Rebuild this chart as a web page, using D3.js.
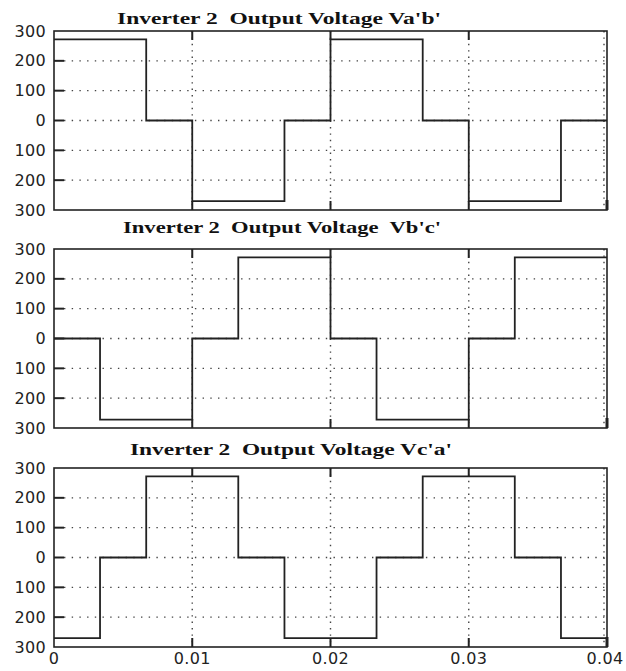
<!DOCTYPE html>
<html>
<head>
<meta charset="utf-8">
<script src="https://cdn.jsdelivr.net/npm/d3@7"></script>
<style>
  body { margin: 0; background: #fff; }
  svg { display: block; }
  .tick-label { font-family: "DejaVu Sans", sans-serif; font-size: 16px; fill: #222; letter-spacing: 0.3px; }
  .title { font-family: "Liberation Serif", "Times New Roman", serif; font-weight: bold; font-size: 17px; fill: #111; white-space: pre; }
</style>
</head>
<body>
<div id="chart"></div>
<script>
// step waveforms: [time, value] held until the next point
const seriesVab = [[0, 272], [0.00667, 0], [0.01, -270], [0.01667, 0], [0.02, 272], [0.02667, 0], [0.03, -270], [0.03667, 0], [0.04, 0]];
const seriesVbc = [[0, 0], [0.00333, -272], [0.01, 0], [0.01333, 272], [0.02, 0], [0.02333, -272], [0.03, 0], [0.03333, 272], [0.04, 272]];
const seriesVca = [[0, -270], [0.00333, 0], [0.00667, 272], [0.01333, 0], [0.01667, -270], [0.02333, 0], [0.02667, 272], [0.03333, 0], [0.03667, -270], [0.04, -270]];

const titles = ["Inverter 2  Output Voltage Va'b'", "Inverter 2  Output Voltage  Vb'c'", "Inverter 2  Output Voltage Vc'a'"];
const yTicks = [300, 200, 100, 0, -100, -200, -300];
const yTickLabels = ["300", "200", "100", "0", "100", "200", "300"];
const xTicks = [0, 0.01, 0.02, 0.03, 0.04];
const xTickLabels = ["0", "0.01", "0.02", "0.03", "0.04"];

const width = 626, height = 671;
const left = 54, right = 607;
const panels = [
    { top: 31, data: seriesVab, titleX: 117, titleW: 324, titleY: 24 },
    { top: 249, data: seriesVbc, titleX: 123, titleW: 318, titleY: 233 },
    { top: 468, data: seriesVca, titleX: 130, titleW: 322, titleY: 455 }
];
const panelH = 179;
const ink = "#222";

const svg = d3.select("#chart").append("svg")
    .attr("width", width)
    .attr("height", height);

const x = d3.scaleLinear().domain([0, 0.04]).range([left, right]);

panels.forEach((p, i) => {
    const y = d3.scaleLinear().domain([-300, 300]).range([p.top + panelH, p.top]);
    const g = svg.append("g");

    // dotted grid
    g.selectAll("line.hgrid")
        .data(yTicks.filter(v => Math.abs(v) < 300))
        .enter().append("line")
        .attr("x1", left + 10).attr("x2", right)
        .attr("y1", d => y(d)).attr("y2", d => y(d))
        .attr("stroke", "#444").attr("stroke-width", 1.4)
        .attr("stroke-dasharray", "1.4,6.3");
    g.selectAll("line.vgrid")
        .data(xTicks.slice(1))
        .enter().append("line")
        .attr("x1", d => x(d) - (d === 0.04 ? 3 : 0)).attr("x2", d => x(d) - (d === 0.04 ? 3 : 0))
        .attr("y1", p.top).attr("y2", p.top + panelH)
        .attr("stroke", "#444").attr("stroke-width", 1.4)
        .attr("stroke-dasharray", "1.4,5");

    // waveform
    const line = d3.line()
        .x(d => x(d[0]))
        .y(d => y(d[1]))
        .curve(d3.curveStepAfter);
    g.append("path")
        .datum(p.data)
        .attr("d", line)
        .attr("fill", "none")
        .attr("stroke", ink)
        .attr("stroke-width", 1.8);

    // box
    g.append("rect")
        .attr("x", left).attr("y", p.top)
        .attr("width", right - left).attr("height", panelH)
        .attr("fill", "none").attr("stroke", ink).attr("stroke-width", 1.6);

    // y ticks (inward) and labels
    g.selectAll("line.ytick")
        .data(yTicks.filter(v => Math.abs(v) < 300))
        .enter().append("line")
        .attr("x1", left).attr("x2", left + 10)
        .attr("y1", d => y(d)).attr("y2", d => y(d))
        .attr("stroke", ink).attr("stroke-width", 2);
    g.selectAll("text.ylab")
        .data(yTicks)
        .enter().append("text")
        .attr("class", "tick-label")
        .attr("x", left - 8)
        .attr("y", d => y(d) + 5.5)
        .attr("text-anchor", "end")
        .text((d, j) => yTickLabels[j]);

    // x ticks at top and bottom
    xTicks.slice(1, 4).forEach(t => {
        g.append("line").attr("x1", x(t)).attr("x2", x(t))
            .attr("y1", p.top).attr("y2", p.top + 9)
            .attr("stroke", ink).attr("stroke-width", 2);
        g.append("line").attr("x1", x(t)).attr("x2", x(t))
            .attr("y1", p.top + panelH).attr("y2", p.top + panelH - 9)
            .attr("stroke", ink).attr("stroke-width", 2);
    });
    // heavier right edge
    g.append("line").attr("x1", right).attr("x2", right)
        .attr("y1", p.top + panelH - 10).attr("y2", p.top + panelH)
        .attr("stroke", ink).attr("stroke-width", 3);

    // title
    svg.append("text")
        .attr("class", "title")
        .attr("x", p.titleX)
        .attr("y", p.titleY)
        .attr("textLength", p.titleW)
        .attr("lengthAdjust", "spacingAndGlyphs")
        .text(titles[i]);

    if (i === panels.length - 1) {
        g.selectAll("text.xlab")
            .data(xTicks)
            .enter().append("text")
            .attr("class", "tick-label")
            .attr("x", d => x(d) + (d === 0.04 ? -2 : 0))
            .attr("y", p.top + panelH + 17)
            .attr("text-anchor", "middle")
            .text((d, j) => xTickLabels[j]);
    }
});
</script>
</body>
</html>
